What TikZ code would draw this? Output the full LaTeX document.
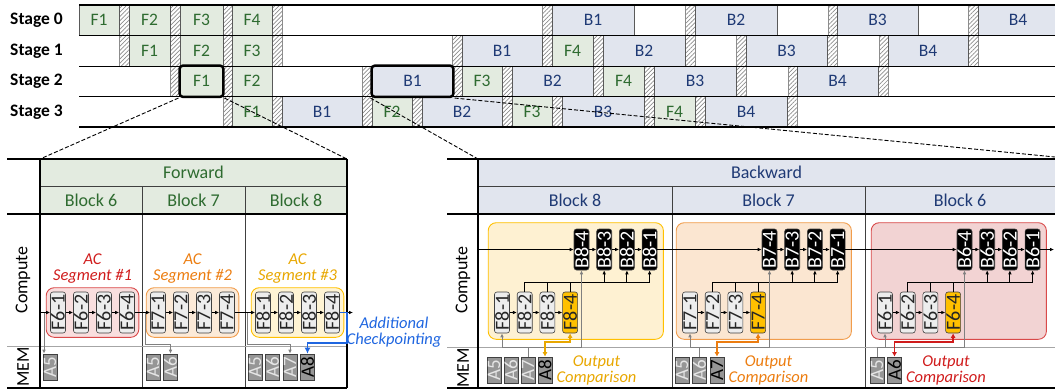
\documentclass[tikz,border=0pt]{standalone}
\usepackage{fontspec}
\setmainfont{Carlito}
\usepackage{graphicx}
\usetikzlibrary{positioning,arrows.meta,patterns.meta,fit,backgrounds}

\definecolor{fwdfill}{HTML}{E3EBE0}
\definecolor{fwdtext}{HTML}{2E6B30}
\definecolor{bwdfill}{HTML}{E1E5EE}
\definecolor{bwdtext}{HTML}{1F3A75}
\definecolor{boxline}{HTML}{595959}
\definecolor{commline}{HTML}{8C8C8C}
\definecolor{subgrey}{HTML}{EDEDED}
\definecolor{memgrey}{HTML}{969696}
\definecolor{memtext}{HTML}{E6E6E6}
\definecolor{recomp}{HTML}{FFC000}
\definecolor{segred}{HTML}{D01C1C}
\definecolor{segorange}{HTML}{EC7D10}
\definecolor{segyellow}{HTML}{E8A700}
\definecolor{redfill}{HTML}{F9DEDE}
\definecolor{orangefill}{HTML}{FCEAD8}
\definecolor{yellowfill}{HTML}{FFF4D4}
\definecolor{redfillb}{HTML}{F2D3D3}
\definecolor{orangefillb}{HTML}{FBE6D1}
\definecolor{yellowfillb}{HTML}{FEF1D2}
\definecolor{ckblue}{HTML}{1F66E0}
\definecolor{arrgrey}{HTML}{808080}

\tikzset{
slot/.style={
  draw=boxline,
  line width=0.6pt,
  minimum height=30.5pt,
  inner sep=0pt,
  font=\fontsize{17.5}{18}\selectfont
  },
fslot/.style={slot,fill=fwdfill,text=fwdtext},
bslot/.style={slot,fill=bwdfill,text=bwdtext},
comm/.style={
  draw=commline,
  line width=0.6pt,
  pattern={Lines[angle=45,distance=3pt,line width=0.7pt]},
  pattern color=commline
  },
stage/.style={anchor=east,inner sep=0pt,font=\bfseries\fontsize{17.5}{18}\selectfont},
hl/.style={draw,line width=2.5pt,rounded corners=3pt,inner sep=0pt},
zoomline/.style={line width=0.9pt,dash pattern=on 4pt off 2pt},
frame/.style={line width=1.6pt},
thinline/.style={draw=black!75,line width=0.9pt},
memsep/.style={draw=black!35,line width=1pt},
head/.style={font=\fontsize{18}{18}\selectfont},
side/.style={rotate=90,font=\fontsize{18}{18}\selectfont},
sub/.style={
  draw=black!75,
  line width=0.6pt,
  rounded corners=2.5pt,
  minimum width=15pt,
  minimum height=41pt,
  inner sep=0.5pt,
  fill=subgrey,
  text=black!85,
  font=\fontsize{20}{20}\selectfont
  },
bsub/.style={sub,fill=black,text=white},
memcell/.style={
  draw=black!75,
  line width=0.6pt,
  fill=memgrey,
  text=memtext,
  minimum width=14pt,
  minimum height=26pt,
  inner sep=0.5pt,
  font=\fontsize{19}{19}\selectfont
  },
memkept/.style={memcell,text=black},
seg/.style={rounded corners=8pt,line width=0.9pt,inner sep=4pt},
seglab/.style={align=center,inner sep=0pt,font=\itshape\fontsize{16.5}{16}\selectfont},
flow/.style={->,line width=0.9pt},
plain/.style={line width=0.9pt},
memarr/.style={->,draw=arrgrey,line width=0.9pt},
cmparr/.style={{Latex[length=4.5pt,width=5pt]}-{Latex[length=4.5pt,width=5pt]},line width=1.8pt},
ckarr/.style={-{Latex[length=6pt,width=6pt]},draw=ckblue,line width=1.8pt}
}

\begin{document}
\begin{tikzpicture}[x=1pt,y=-1pt,>={Latex[length=4pt,width=3.6pt]}]
\useasboundingbox (0,0) rectangle (1055,391);

% pipeline schedule
\foreach \r in {0,...,3}
  \node[stage] (st\r) at (63,{20.25+30.5*\r}) {Stage \r};

\foreach \x in {119,170,223,272,542,685,828,968}
  \draw[comm] (\x,5) rectangle ++(10,30.5);
\foreach \x in {119,170,223,272,452,542,593,685,736,827,879,968}
  \draw[comm] (\x,35.5) rectangle ++(10,30.5);
\foreach \x in {170,223,362,453,502,593,644,736,788,878}
  \draw[comm] (\x,66) rectangle ++(10,30.5);
\foreach \x in {223,272,362,412,502,552,644,695,787}
  \draw[comm] (\x,96.5) rectangle ++(10,30.5);

\foreach \r/\a/\b/\t in {0/79/119/1,0/129/170/2,0/180/223/3,0/232/272/4,
  1/129/170/1,1/180/223/2,1/232/272/3,1/552/593/4,
  2/180/223/1,2/232/272/2,2/462/502/3,2/603/644/4,
  3/232/272/1,3/372/412/2,3/512/552/3,3/654/695/4}
  \node[fslot,minimum width={\b-\a}] (s\r-F\t) at ({(\a+\b)/2},{20.25+30.5*\r}) {F\t};

\foreach \r/\a/\b/\t in {0/552/634/1,0/695/777/2,0/837/918/3,0/978/1058/4,
  1/462/542/1,1/603/685/2,1/746/827/3,1/888/968/4,
  2/372/453/1,2/512/593/2,2/654/736/3,2/797/878/4,
  3/282/362/1,3/422/502/2,3/562/644/3,3/705/787/4}
  \node[bslot,minimum width={\b-\a}] (s\r-B\t) at ({(\a+\b)/2},{20.25+30.5*\r}) {B\t};

\foreach \y/\w in {5/1.4pt,35.5/0.8pt,66/0.8pt,96.5/0.8pt,127/1.8pt}
  \draw[line width=\w] (79,\y) -- (1055,\y);

\node[hl,fit=(s2-F1)] (z1) {};
\node[hl,fit=(s2-B1)] (z2) {};

\coordinate (fwdtl) at (40,159);
\coordinate (fwdtr) at (347,159);
\coordinate (bwdtl) at (478,159);
\coordinate (bwdtr) at (1055,157);
\draw[zoomline] (z1.south west) -- (fwdtl) (z1.south east) -- (fwdtr);
\draw[zoomline] (z2.south west) -- (bwdtl) (z2.south east) -- (bwdtr);

% forward panel
\fill[fwdfill] (40,159) rectangle (347,214);
\draw[thinline] (40,186.5) -- (347,186.5) (142,186.5) -- (142,388) (245,186.5) -- (245,388);
\draw[memsep] (7,346.5) -- (347,346.5);
\draw[frame] (7,159) -- (347,159) (7,214) -- (347,214) (7,388) -- (347,388)
  (40,159) -- (40,388) (347,159) -- (347,388);

\node[head,text=fwdtext] (fwd) at (193.5,172.75) {Forward};
\node[head,text=fwdtext] (fb6) at (91,200.25) {Block 6};
\node[head,text=fwdtext] (fb7) at (193.5,200.25) {Block 7};
\node[head,text=fwdtext] (fb8) at (296,200.25) {Block 8};
\node[side] (fcomp) at (23,280) {Compute};
\node[side] (fmem) at (23,367) {MEM};

\foreach \blk/\ox in {6/58,7/158,8/263}
  \foreach \k in {1,...,4}
    \node[sub] (f\blk\k) at ({\ox+23*(\k-1)},312.5) {\rotatebox{90}{F\blk-\k}};

\begin{scope}[on background layer]
\node[seg,draw=segred!80,fill=redfill,fit=(f61)(f64)] (seg6) {};
\node[seg,draw=segorange!75,fill=orangefill,fit=(f71)(f74)] (seg7) {};
\node[seg,draw=recomp,fill=yellowfill,fit=(f81)(f84)] (seg8) {};
\end{scope}
\node[seglab,text=segred,above=4pt of seg6] (lab6) {AC\\Segment \#1};
\node[seglab,text=segorange,above=4pt of seg7] (lab7) {AC\\Segment \#2};
\node[seglab,text=segyellow,above=4pt of seg8] (lab8) {AC\\Segment \#3};

\node[memcell] (m6a5) at (50,367) {\rotatebox{90}{A5}};
\node[memcell] (m7a5) at (153,367) {\rotatebox{90}{A5}};
\node[memcell] (m7a6) at (170.5,367) {\rotatebox{90}{A6}};
\foreach \i/\x in {5/255,6/272.5,7/290}
  \node[memcell] (m8a\i) at (\x,367) {\rotatebox{90}{A\i}};
\node[memkept] (m8a8) at (307.5,367) {\rotatebox{90}{A8}};

\coordinate (fin) at (40,312.5);
\coordinate (fout) at (353,312.5);
\draw[flow] (fin) -- (f61);
\foreach \a/\b in {f61/f62,f62/f63,f63/f64,f64/f71,f71/f72,f72/f73,f73/f74,
  f74/f81,f81/f82,f82/f83,f83/f84}
  \draw[flow] (\a) -- (\b);
\draw[flow] (f84) -- (fout);

\coordinate (g6) at (44,312.5);
\coordinate (g7) at (145,312.5);
\coordinate (g8) at (247,312.5);
\draw[memarr] (g6) -- (g6 |- m6a5.north);
\draw[memarr] (g7) |- ([yshift=9pt]m7a6.north) -- (m7a6.north);
\draw[memarr] (g8) |- ([yshift=9pt]m8a7.north) -- (m8a7.north);
\draw[ckarr] (f84.east) -- ++(7,0) |- ([yshift=11pt]m8a8.north) -- (m8a8.north);
\node[seglab,text=ckblue] (ck) at (394,332) {Additional\\Checkpointing};

% backward panel
\fill[bwdfill] (478,159) rectangle (1055,214);
\draw[thinline] (478,186.5) -- (1055,186.5) (672,186.5) -- (672,388) (865,186.5) -- (865,388);
\draw[memsep] (447,347) -- (1055,347);
\draw[frame] (447,159) -- (1055,159) (447,214) -- (1055,214) (447,388) -- (1055,388)
  (478,159) -- (478,388);

\node[head,text=bwdtext] (bwd) at (766.5,172.75) {Backward};
\node[head,text=bwdtext] (bb8) at (575,200.25) {Block 8};
\node[head,text=bwdtext] (bb7) at (768.5,200.25) {Block 7};
\node[head,text=bwdtext] (bb6) at (960,200.25) {Block 6};
\node[side] (bcomp) at (463,280) {Compute};
\node[side] (bmem) at (463,368) {MEM};

\foreach \blk/\ox in {8/502,7/690,6/885}
  \foreach \k/\c in {1/subgrey,2/subgrey,3/subgrey,4/recomp} {
    \node[sub,fill=\c] (p\blk\k) at ({\ox+22.7*(\k-1)},312.5) {\rotatebox{90}{F\blk-\k}};
    \node[bsub] (b\blk\k) at ({\ox+79.5+22.7*(4-\k)},249.5) {\rotatebox{90}{B\blk-\k}};
  }

\begin{scope}[on background layer]
\node[seg,inner sep=6pt,draw=recomp,fill=yellowfillb,fit=(p81)(b81)] (rseg8) {};
\node[seg,inner sep=6pt,draw=segorange!75,fill=orangefillb,fit=(p71)(b71)] (rseg7) {};
\node[seg,inner sep=6pt,draw=segred!80,fill=redfillb,fit=(p61)(b61)] (rseg6) {};
\end{scope}

\foreach \i/\x in {5/494,6/511,7/528}
  \node[memcell] (n8a\i) at (\x,370) {\rotatebox{90}{A\i}};
\node[memkept] (n8a8) at (545,370) {\rotatebox{90}{A8}};
\foreach \i/\x in {5/682,6/699.5}
  \node[memcell] (n7a\i) at (\x,370) {\rotatebox{90}{A\i}};
\node[memkept] (n7a7) at (717,370) {\rotatebox{90}{A7}};
\node[memcell] (n6a5) at (877,370) {\rotatebox{90}{A5}};
\node[memkept] (n6a6) at (894.5,370) {\rotatebox{90}{A6}};

\coordinate (bin) at (478,249.5);
\coordinate (bout) at (1054,249.5);
\draw[flow] (bin) -- (b84);
\foreach \a/\b in {b84/b83,b83/b82,b82/b81,b81/b74,b74/b73,b73/b72,b72/b71,
  b71/b64,b64/b63,b63/b62,b62/b61}
  \draw[flow] (\a) -- (\b);
\draw[flow] (b61) -- (bout);

\foreach \blk in {8,7,6} {
  \foreach \a/\b in {1/2,2/3,3/4}
    \draw[flow] (p\blk\a) -- (p\blk\b);
  \coordinate (r\blk) at ([yshift=-12pt]b\blk1.south);
  \draw[plain] (p\blk2.north) |- (r\blk);
  \draw[plain] (p\blk3.north) -- (p\blk3.north |- r\blk);
  \draw[plain] (p\blk4.north) -- (p\blk4.north |- r\blk);
  \foreach \j in {3,2,1}
    \draw[flow] (b\blk\j.south |- r\blk) -- (b\blk\j.south);
}

\foreach \blk/\src in {8/n8a7,7/n7a6,6/n6a5} {
  \draw[draw=arrgrey,line width=0.9pt] (\src.north) -- ([yshift=9pt]\src.north) coordinate (q\blk);
  \draw[memarr] (q\blk) -| (p\blk1.south);
  \draw[memarr] (q\blk) -| (b\blk4.south);
}

\draw[cmparr,draw=segyellow] (n8a8.north) |- ([yshift=-9pt]p84.south) -- (p84.south);
\draw[cmparr,draw=segorange] (n7a7.north) |- ([yshift=-9pt]p74.south) -- (p74.south);
\draw[cmparr,draw=segred] (n6a6.north) |- ([yshift=-9pt]p64.south) -- (p64.south);

\node[seglab,text=segyellow,right=4pt of n8a8] (out8) {Output\\Comparison};
\node[seglab,text=segorange,right=4pt of n7a7] (out7) {Output\\Comparison};
\node[seglab,text=segred,right=4pt of n6a6] (out6) {Output\\Comparison};

\end{tikzpicture}
\end{document}
